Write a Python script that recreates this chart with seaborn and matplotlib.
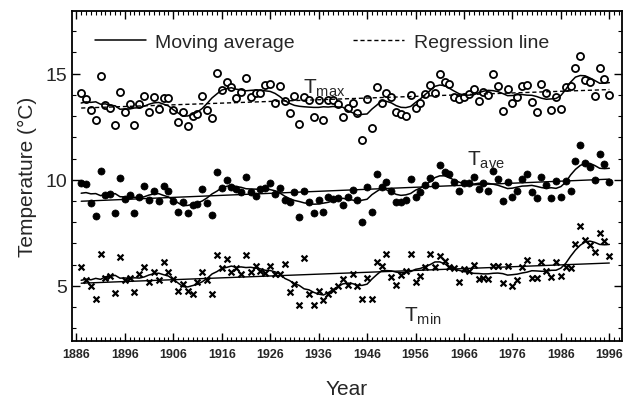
import numpy as np
import pandas as pd
import matplotlib
matplotlib.use("Agg")
import matplotlib.pyplot as plt
from matplotlib.lines import Line2D
from matplotlib.ticker import MultipleLocator
import seaborn as sns

# ---------------- data ----------------
years = list(range(1887, 1997))

tmax = [14.1, 13.8, 13.3, 12.8, 14.9, 13.5, 13.4, 12.6, 14.15, 13.2,
        13.55, 12.6, 13.55, 13.95, 13.2, 13.9, 13.35, 13.85, 13.85, 13.3,
        12.7, 13.2, 12.55, 13.0, 13.1, 13.95, 13.3, 12.9, 15.05, 14.25,
        14.6, 14.35, 13.85, 14.15, 14.8, 13.9, 14.1, 14.1, 14.45, 14.5,
        13.6, 14.4, 13.7, 13.15, 13.95, 12.65, 13.9, 13.75, 12.95, 13.75,
        12.8, 13.75, 13.75, 13.55,
        12.95, 13.4, 13.6, 13.15, 11.85, 13.8, 12.45, 14.35, 13.6, 14.1,
        13.9, 13.2, 13.1, 13.0, 14.0, 13.4, 13.6, 14.05, 14.45, 14.1,
        15.0, 14.6, 14.5, 13.9, 13.8, 13.9, 14.05, 14.3, 13.7, 14.15,
        14.0, 15.0, 14.4, 13.25, 14.3, 13.6, 13.9, 14.4, 14.45, 13.65,
        13.2, 14.5, 14.1, 13.3, 13.9, 13.35, 14.35, 14.4, 15.25, 15.85,
        14.7, 14.6, 13.95, 15.25, 14.75, 14.0]

tave = [9.85, 9.8, 8.9, 8.3, 10.4, 9.3, 9.35, 8.45, 10.1, 9.1,
        9.3, 8.45, 9.2, 9.7, 9.05, 9.45, 9.0, 9.7, 9.45, 9.0,
        8.5, 8.95, 8.45, 8.8, 8.85, 9.55, 8.9, 8.35, 10.35, 9.6,
        10.0, 9.65, 9.55, 9.4, 10.15, 9.4, 9.25, 9.55, 9.6, 9.85,
        9.35, 9.6, 9.05, 8.95, 9.4, 8.25, 9.45, 8.95, 8.45, 9.05,
        8.5, 9.2, 9.1, 9.15, 8.8,
        9.2, 9.5, 9.05, 8.0, 9.65, 8.5, 10.25, 9.65, 9.9, 9.45,
        8.95, 8.95, 9.05, 10.05, 9.2, 9.4, 9.75, 10.1, 9.75, 10.7,
        10.35, 10.25, 9.9, 9.45, 9.85, 9.85, 10.15, 9.55, 9.85, 9.45,
        10.4, 10.05, 9.0, 9.9, 9.2, 9.45, 10.05, 10.25, 9.4, 9.15,
        10.15, 9.75, 9.15, 9.95, 9.2, 9.95, 9.45, 10.9, 11.65, 10.8,
        10.6, 10.0, 11.2, 10.75, 9.9]

tmin = [5.9, 5.25, 5.0, 4.4, 6.5, 5.35, 5.45, 4.65, 6.35, 5.25,
        5.35, 4.7, 5.55, 5.9, 5.2, 5.65, 5.25, 6.1, 5.65, 5.3,
        4.75, 5.1, 4.75, 4.6, 5.2, 5.65, 5.25, 4.6, 6.45, 5.85,
        6.25, 5.65, 5.85, 5.55, 6.45, 5.65, 5.95, 5.7, 5.6, 5.95,
        5.55, 5.55, 6.05, 4.7, 5.1, 4.1, 6.3, 4.6, 4.1, 4.75,
        4.35, 4.6, 4.8, 5.0, 5.3, 5.05, 5.55, 5.0, 4.4,
        5.35, 4.4, 6.1, 5.95, 6.5, 5.4, 5.05, 5.5, 5.7, 6.5,
        5.2, 5.45, 5.9, 6.5, 5.9, 6.4, 6.15, 5.9, 5.85, 5.2,
        5.8, 5.7, 6.0, 5.3, 5.35, 5.3, 5.95, 5.95, 5.15, 5.95,
        5.0, 5.25, 5.9, 6.2, 5.35, 5.35, 6.1, 5.7, 5.4, 6.1,
        5.45, 5.9, 5.85, 6.95, 7.8, 7.15, 6.9, 6.6, 7.5, 7.1,
        6.4]

series_names = ["Tmax", "Tave", "Tmin"]
x_tick_labels = [str(y) for y in range(1886, 1997, 10)]
y_tick_values = [5, 10, 15]
legend_labels = ["Moving average", "Regression line"]

# ---------------- build table ----------------
df = pd.DataFrame({"Year": years * 3,
                   "Temp": tmax + tave + tmin,
                   "Series": [s for s, v in zip(series_names, [tmax, tave, tmin]) for _ in v]})

sns.set_style("ticks")
plt.rcParams["font.family"] = ["Liberation Sans", "DejaVu Sans"]

fig = plt.figure(figsize=(6.26, 4.10), dpi=100)
ax = fig.add_axes([0.115, 0.166, 0.8785, 0.8045])

marker_style = {
    "Tmax": dict(marker="o", s=26, facecolor="white", edgecolor="black", linewidth=1.3),
    "Tave": dict(marker="o", s=26, color="black", edgecolor="black", linewidth=0.5),
    "Tmin": dict(marker="x", s=18, color="black", linewidth=1.6),
}
reg_style = {"Tmax": (0, (3, 2)), "Tave": "-", "Tmin": "-"}

for name in series_names:
    sub = df[df["Series"] == name].reset_index(drop=True)
    sns.scatterplot(data=sub, x="Year", y="Temp", ax=ax, legend=False,
                    zorder=3, **marker_style[name])
    ma = sub["Temp"].rolling(5, center=True, min_periods=3).mean()
    ma = ma.rolling(3, center=True, min_periods=1).mean()
    sns.lineplot(x=sub["Year"], y=ma, ax=ax, color="black", lw=1.1, zorder=4)
    coef = np.polyfit(sub["Year"], sub["Temp"], 1)
    fit = np.polyval(coef, sub["Year"])
    ax.plot(sub["Year"], fit, color="black", lw=1.0, linestyle=reg_style[name], zorder=4)

ax.set_xlim(1885.1, 1998.6)
ax.set_ylim(2.4, 17.95)
ax.set_xticks(list(range(1886, 1997, 10)))
ax.set_xticklabels(x_tick_labels, fontsize=9, fontweight="bold")
ax.xaxis.set_minor_locator(MultipleLocator(1))
ax.set_yticks(y_tick_values)
ax.set_yticklabels([str(v) for v in y_tick_values], fontsize=14)
ax.yaxis.set_minor_locator(MultipleLocator(1))
ax.tick_params(which="both", direction="in", top=True, right=True, color="black")
ax.tick_params(which="major", length=6, width=1)
ax.tick_params(which="minor", length=3, width=0.8)
ax.tick_params(axis="x", which="major", pad=5)
for sp in ax.spines.values():
    sp.set_linewidth(1.3)
    sp.set_color("black")

ax.set_xlabel("Year", fontsize=15, labelpad=14)
ax.set_ylabel("Temperature (°C)", fontsize=15, labelpad=6)

ax.text(1932.8, 14.35, r"$\mathregular{T_{max}}$", fontsize=15, ha="left", va="center")
ax.text(1966.6, 10.95, r"$\mathregular{T_{ave}}$", fontsize=15, ha="left", va="center")
ax.text(1953.6, 3.6, r"$\mathregular{T_{min}}$", fontsize=15, ha="left", va="center")

handles = [Line2D([], [], color="black", lw=1.1),
           Line2D([], [], color="black", lw=1.0, linestyle=(0, (3, 2)))]
ax.legend(handles, legend_labels, loc="upper left", bbox_to_anchor=(0.01, 0.985),
          ncol=2, frameon=False, fontsize=14, handlelength=2.6, columnspacing=3.0,
          handletextpad=0.5)

fig.savefig("out.png", dpi=100)
